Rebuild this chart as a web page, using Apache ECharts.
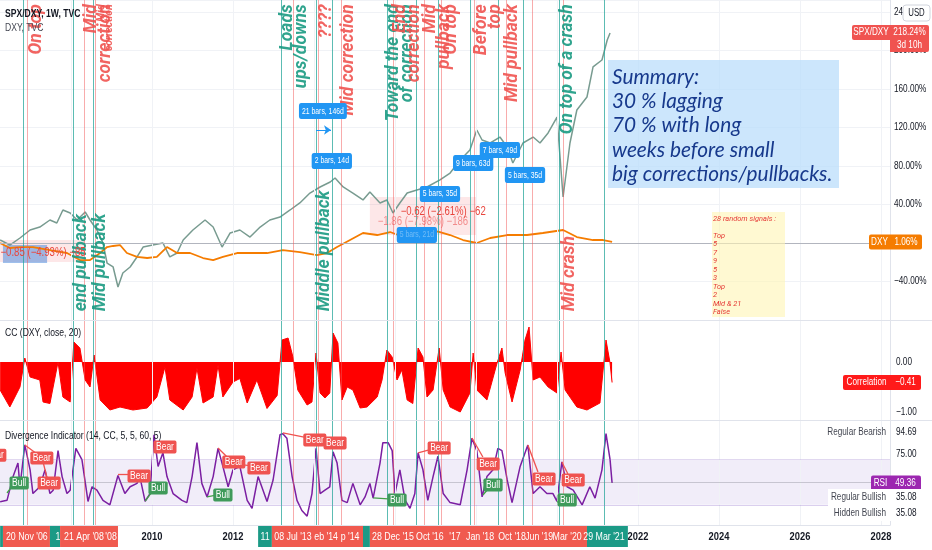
<!DOCTYPE html>
<html><head><meta charset="utf-8">
<script src="https://cdn.jsdelivr.net/npm/echarts@6/dist/echarts.min.js"></script>
<style>html,body{margin:0;padding:0;background:#fff}#c{width:932px;height:550px}</style>
</head><body><div id="c"></div>
<script>
// ---------- DATA (x = decimal year) ----------
const tealLines = [2006.815, 2008.049, 2008.543, 2013.185, 2014.049, 2014.444, 2015.802, 2016.519, 2017.062, 2017.852, 2018.543, 2019.160, 2020.049, 2021.160];
const redLines  = [2006.914, 2008.321, 2008.593, 2013.481, 2014.099, 2014.667, 2015.951, 2016.716, 2017.136, 2017.951, 2018.741, 2019.383, 2020.148];
const yearTicks = [2008, 2010, 2012, 2014, 2016, 2018, 2020, 2022, 2024, 2026, 2028];
const pctTicks = [-40, 0, 40, 80, 120, 160, 200, 240];

const spxData = [[2006.25,3.1],[2006.49,-2.1],[2006.74,5.2],[2006.99,13.5],[2007.23,16.6],[2007.48,23.9],[2007.65,20.8],[2007.80,34.3],[2007.98,31.2],[2008.15,23.9],[2008.35,32.2],[2008.47,23.9],[2008.64,13.5],[2008.79,0],[2008.89,-20.8],[2009.04,-24.9],[2009.16,-45.7],[2009.28,-31.2],[2009.46,-24.9],[2009.63,-14.5],[2009.78,-4.2],[2010.02,-2.1],[2010.27,0],[2010.44,-14.5],[2010.62,-10.4],[2010.77,3.1],[2011.01,13.5],[2011.31,23.9],[2011.51,16.6],[2011.73,-4.2],[2011.93,10.4],[2012.17,13.5],[2012.42,6.2],[2012.67,16.6],[2012.91,23.9],[2013.16,27.0],[2013.41,34.3],[2013.65,41.6],[2013.90,51.9],[2014.15,58.2],[2014.40,63.4],[2014.52,67.5],[2014.72,58.2],[2014.96,51.9],[2015.21,44.7],[2015.38,53.0],[2015.63,41.6],[2015.80,44.7],[2015.95,31.2],[2016.12,41.6],[2016.30,51.9],[2016.54,55.1],[2016.79,58.2],[2017.11,65.5],[2017.36,72.7],[2017.61,86.2],[2017.85,96.6],[2018.02,117.4],[2018.15,107.0],[2018.35,103.9],[2018.59,110.1],[2018.77,99.7],[2018.91,83.1],[2019.16,103.9],[2019.41,110.1],[2019.58,103.9],[2019.78,114.3],[2020.00,130.9],[2020.15,47.8],[2020.32,103.9],[2020.49,138.2],[2020.74,151.7],[2020.89,182.9],[2021.11,190.1],[2021.24,210.9],[2021.31,218.24]];

const dxyData = [[2006.25,0],[2006.49,-5.2],[2006.74,-4.2],[2007.06,-4.2],[2007.48,-7.3],[2007.90,-10.4],[2008.22,-17.7],[2008.47,-17.7],[2008.72,-10.4],[2008.89,-4.2],[2009.04,-3.1],[2009.21,-2.1],[2009.38,-10.4],[2009.63,-14.5],[2009.88,-15.6],[2010.12,-14.5],[2010.37,-4.2],[2010.62,-10.4],[2010.94,-10.4],[2011.26,-15.6],[2011.51,-17.7],[2011.75,-14.5],[2012.10,-10.4],[2012.42,-10.4],[2012.84,-10.4],[2013.23,-7.3],[2013.65,-9.4],[2014.07,-12.5],[2014.32,-10.4],[2014.57,-4.2],[2014.89,3.1],[2015.21,10.4],[2015.56,8.3],[2015.88,11.4],[2016.20,6.2],[2016.54,6.2],[2016.86,13.5],[2017.11,11.4],[2017.36,8.3],[2017.68,3.1],[2018.02,0],[2018.35,5.2],[2018.77,8.3],[2019.26,8.3],[2019.65,10.4],[2020.15,13.5],[2020.49,6.2],[2020.89,3.1],[2021.14,3.1],[2021.36,1.06]];

const ccData = [[2006.25,-0.56],[2006.49,-0.9],[2006.74,-0.5],[2006.86,0.08],[2006.99,-0.3],[2007.23,-0.36],[2007.31,-0.8],[2007.48,-0.83],[2007.68,0],[2007.80,-0.7],[2007.98,-0.8],[2008.07,0.4],[2008.22,0.28],[2008.35,-0.36],[2008.47,-0.5],[2008.57,0.14],[2008.72,-0.76],[2008.96,-0.96],[2009.21,-0.9],[2009.53,-0.96],[2009.88,-0.92],[2010.12,-0.7],[2010.32,-0.1],[2010.44,-0.76],[2010.77,-0.96],[2010.99,-0.7],[2011.11,-0.12],[2011.26,-0.82],[2011.51,-0.7],[2011.63,-0.06],[2011.75,-0.7],[2012.00,-0.4],[2012.17,-0.33],[2012.35,-0.82],[2012.59,-0.36],[2012.84,-0.93],[2013.09,-0.67],[2013.21,0.44],[2013.36,0.48],[2013.48,0.1],[2013.60,-0.56],[2013.83,-0.86],[2013.95,-0.8],[2014.05,0.18],[2014.15,-0.62],[2014.27,-0.72],[2014.39,-0.62],[2014.47,0.58],[2014.59,0.38],[2014.69,-0.76],[2014.82,-0.5],[2014.96,-0.56],[2015.14,-0.92],[2015.31,-0.9],[2015.56,-0.7],[2015.68,-0.36],[2015.80,0.24],[2015.93,0.1],[2016.05,-0.36],[2016.17,-0.16],[2016.30,-0.76],[2016.44,-0.83],[2016.57,0.28],[2016.69,0.1],[2016.79,-0.7],[2016.94,-0.56],[2017.09,0.28],[2017.19,-0.56],[2017.36,-0.9],[2017.61,-1.0],[2017.85,-0.62],[2017.93,0.18],[2018.02,-0.56],[2018.27,-0.76],[2018.52,-0.02],[2018.64,0.28],[2018.72,-0.22],[2018.89,-0.8],[2019.09,-0.16],[2019.21,0.44],[2019.31,0.7],[2019.41,-0.36],[2019.58,-0.3],[2019.78,-0.5],[2020.00,-0.62],[2020.10,0.2],[2020.20,-0.56],[2020.49,-0.9],[2020.74,-0.96],[2021.06,-0.82],[2021.21,0.44],[2021.31,-0.02],[2021.36,-0.41]];

const rsiData = [[2006.25,32.8],[2006.42,34],[2006.57,55],[2006.69,67],[2006.74,46],[2006.86,83],[2006.99,61],[2007.06,40],[2007.23,46],[2007.36,61],[2007.48,40],[2007.56,43],[2007.68,78],[2007.78,55],[2007.90,40],[2007.98,43],[2008.12,80],[2008.27,70],[2008.42,33],[2008.52,46],[2008.64,43],[2008.79,34],[2008.96,30],[2009.16,56],[2009.33,40],[2009.46,46],[2009.63,49],[2009.70,55],[2009.83,33],[2009.95,40],[2010.05,92],[2010.15,64],[2010.27,76],[2010.37,55],[2010.52,40],[2010.74,34],[2010.86,32],[2010.99,55],[2011.11,85],[2011.23,49],[2011.36,37],[2011.51,55],[2011.63,80],[2011.75,64],[2011.88,46],[2012.00,61],[2012.17,64],[2012.35,34],[2012.47,27],[2012.62,55],[2012.84,33],[2012.99,52],[2013.16,92],[2013.23,93],[2013.33,89],[2013.46,55],[2013.58,34],[2013.70,25],[2013.83,20],[2013.95,40],[2014.05,80],[2014.15,40],[2014.27,43],[2014.39,46],[2014.47,77],[2014.57,67],[2014.69,34],[2014.82,32],[2014.96,49],[2015.14,30],[2015.26,37],[2015.38,49],[2015.46,36],[2015.63,67],[2015.70,85],[2015.83,85],[2015.93,78],[2016.00,40],[2016.12,61],[2016.25,34],[2016.37,27],[2016.49,40],[2016.57,76],[2016.69,61],[2016.81,34],[2016.94,55],[2017.06,73],[2017.19,40],[2017.36,32],[2017.61,30],[2017.78,61],[2017.90,89],[2018.02,78],[2018.15,37],[2018.27,55],[2018.42,61],[2018.54,80],[2018.64,78],[2018.77,52],[2018.89,32],[2019.09,64],[2019.28,83],[2019.41,40],[2019.58,46],[2019.75,40],[2019.90,40],[2020.00,33],[2020.12,68],[2020.25,46],[2020.40,43],[2020.62,30],[2020.81,46],[2020.94,36],[2021.11,61],[2021.21,93],[2021.31,70],[2021.36,49.36]];

const topNotes = [[2007.16,'On top','r'],[2008.67,'Mid\ncorrection','r'],[2013.52,'Loads\nups/downs','t'],[2014.32,'????','r'],[2014.86,'Mid correction','r'],[2016.14,'Toward the end\nof correction','t'],[2016.30,'End\ncorrection','r'],[2017.05,'Mid\npullback','r'],[2017.41,'On top','r'],[2018.30,'Before\ntop','r'],[2018.91,'Mid pullback','r'],[2020.27,'On top of a crash','t']];
const smallNotes = [[2008.86,'Mid\ncorrection','r']];
const bottomNotes = [[2008.27,'end pullback','t'],[2008.74,'Mid pullback','t'],[2014.25,'Middle pullback','t'],[2020.32,'Mid crash','r']];
const barCallouts = [[2014.22,137.1,'21 bars, 146d'],[2014.44,85.2,'2 bars, 14d'],[2016.54,8.3,'5 bars, 21d'],[2017.11,50.9,'5 bars, 35d'],[2017.93,83.1,'9 bars, 63d'],[2018.59,96.6,'7 bars, 49d'],[2019.21,70.6,'5 bars, 35d']];
const measureTexts = [[2007.31,-10.4,'−0.85 (−4.93%) −85'],[2016.69,21.8,'−1.86 (−7.98%) −186'],[2017.19,32.2,'−0.62 (−2.61%) −62']];
const measureBoxes = [[2006.0,3.1,2008.35,-19.7],[2015.38,47.8,2018.02,8.3]];
const measureTag = [2006.32,-2.1,2007.41,-20.8];
const arrowSeg = [[2014.05,117.4],[2014.42,117.4]];
const bearLabels = [[2006.12,74],[2007.28,71.5],[2007.46,49.3],[2009.68,55.5],[2010.32,81.2],[2012.02,67.9],[2012.64,62.6],[2014.02,87.4],[2014.52,84.7],[2017.09,80.3],[2018.30,66.2],[2019.68,52.9],[2020.40,52.0]];
const bullLabels = [[2006.72,49.3],[2010.15,44.9],[2011.75,38.7],[2016.05,34.3],[2018.42,47.6],[2020.25,34.3]];
const bearLines = [[[2006.86,83.0],[2007.23,73.2]],[[2007.31,67.9],[2007.41,53.8]],[[2009.16,57.3],[2009.51,57.3]],[[2011.63,80.3],[2011.88,71.5]],[[2012.25,65.3],[2012.47,64.4]],[[2013.23,93.6],[2013.85,89.2]],[[2016.57,75.9],[2016.91,79.4]],[[2017.90,89.2],[2018.17,72.3]],[[2019.28,83.0],[2019.53,59.1]],[[2020.12,67.9],[2020.27,57.3]]];
const bullLines = [[[2006.42,40.5],[2006.57,47.6]],[[2009.83,33.4],[2010.00,41.4]],[[2011.36,37.0],[2011.58,38.7]],[[2015.46,36.1],[2015.83,35.2]],[[2018.17,38.7],[2018.32,44.9]],[[2020.00,32.5],[2020.07,33.4]]];
const dateBoxes = [[2006.25,2006.32,'t'],[2006.32,2007.48,'r'],[2007.48,2007.73,'t'],[2007.73,2009.16,'r'],[2012.62,2012.96,'t'],[2012.96,2015.21,'r'],[2015.21,2015.38,'t'],[2015.38,2020.74,'r'],[2020.74,2021.75,'t']];
const dateTexts = [[2006.91,"20 Nov '06"],[2007.68,"1"],[2008.32,"21 Apr '08"],[2008.99,"'08"],[2012.79,"11"],[2013.48,"08 Jul '13"],[2014.30,"eb '14"],[2014.89,"p '14"],[2015.95,"28 Dec '15"],[2016.86,"Oct '16"],[2017.48,"'17"],[2018.10,"Jan '18"],[2018.89,"Oct '18"],[2019.56,"Jun '19"],[2020.25,"Mar '20"],[2021.16,"29 Mar '21"]];
const lastSpx = 218.24, lastDxy = 1.06, lastCc = -0.41, lastRsi = 49.36, regBear = 94.69, regBull = 35.08, hidBull = 35.08;
const summaryLines = ['Summary:','30 % lagging','70 % with long','weeks before small','big corrections/pullbacks.'];
const signalLines = ['28 random signals :','','Top','5','7','9','5','3','Top','2','Mid & 21','False'];

// ---------- STYLE ----------
const UI = "'Liberation Sans',Roboto,sans-serif";
const NX = 0.78;   // horizontal squeeze to imitate the narrow UI face
const NOTE = "Roboto,'Open Sans',sans-serif";
const TEAL = '#1a9a82', RED = '#ef5350';
const C = {r: RED, t: TEAL};
const X_MIN = 2006.247, X_MAX = 2028.222;
const grids = [
  {left:0, right:42, top:0, height:320},
  {left:0, right:42, top:321, height:99},
  {left:0, right:42, top:421, height:104}
];
const vLines = () => ({
  silent:true, symbol:'none', label:{show:false}, animation:false,
  data: tealLines.map(v => ({xAxis:v, lineStyle:{color:'rgba(38,166,154,0.75)', width:1, type:'solid'}}))
    .concat(redLines.map(v => ({xAxis:v, lineStyle:{color:'rgba(242,90,90,0.5)', width:1, type:'solid'}})))
});
const gridV = (i) => ({type:'line', xAxisIndex:i, yAxisIndex:i, data:[], symbol:'none', z:1,
  markLine:{silent:true, symbol:'none', label:{show:false}, data: yearTicks.map(v => ({xAxis:v, lineStyle:{color:'#f0f2f6', width:1, type:'solid'}}))}});
const xAxisBase = i => ({
  type:'value', gridIndex:i, min:X_MIN, max:X_MAX,
  axisLine:{show:i===2, lineStyle:{color:'#e0e3eb'}}, axisTick:{show:false},
  splitLine:{show:false}, axisLabel:{show:false}
});

function noteItem(n, val, align, size, lh){
  return {value:[n[0], val], label:{show:true, position:'inside', formatter:n[1], rotate:90, align:align, verticalAlign:'middle',
    color:C[n[2]], fontSize:size, lineHeight:lh, fontWeight:'bold', fontStyle:'italic', fontFamily:NOTE, opacity:0.9}};
}

const option = {
  animation:false,
  grid: grids,
  xAxis: [xAxisBase(0), xAxisBase(1), xAxisBase(2)],
  yAxis: [
    {type:'value', gridIndex:0, position:'right', min:-80, max:252.47, interval:40,
      axisLine:{show:true, lineStyle:{color:'#e0e3eb'}}, axisTick:{show:false},
      splitLine:{lineStyle:{color:'#f0f2f6'}}, axisLabel:{show:false}},
    {type:'value', gridIndex:1, position:'right', min:-1.16, max:0.82,
      axisLine:{show:true, lineStyle:{color:'#e0e3eb'}}, axisTick:{show:false}, splitLine:{show:false}, axisLabel:{show:false}},
    {type:'value', gridIndex:2, position:'right', min:12.17, max:104.2,
      axisLine:{show:true, lineStyle:{color:'#e0e3eb'}}, axisTick:{show:false}, splitLine:{show:false}, axisLabel:{show:false}}
  ],
  series: [
    gridV(0), gridV(1), gridV(2),
    {type:'line', name:'DXY', xAxisIndex:0, yAxisIndex:0, data:dxyData, symbol:'none', z:3,
      lineStyle:{color:'#f57c00', width:1.8},
      markArea:{silent:true, data: measureBoxes.map(b => [{coord:[b[0],b[1]], itemStyle:{color:'rgba(242,54,69,0.12)'}},{coord:[b[2],b[3]]}])
        .concat([[{coord:[measureTag[0],measureTag[1]], itemStyle:{color:'rgba(80,140,220,0.55)'}},{coord:[measureTag[2],measureTag[3]]}]])},
      markLine:{silent:true, symbol:'none', label:{show:false}, data:[{yAxis:0, lineStyle:{color:'#b2b5be', width:1, type:'solid'}}]}},
    {type:'line', name:'SPX/DXY', xAxisIndex:0, yAxisIndex:0, data:spxData, symbol:'none', z:2,
      lineStyle:{color:'#789b90', width:1.5}, markLine: vLines()},
    {type:'line', name:'arrow', xAxisIndex:0, yAxisIndex:0, data:[], symbol:'none',
      markLine:{silent:true, symbol:['none','arrow'], symbolSize:7, label:{show:false},
        data:[[{coord:arrowSeg[0], lineStyle:{color:'#2196f3', width:1, type:'solid'}},{coord:arrowSeg[1]}]]}},
    {type:'scatter', name:'notes', xAxisIndex:0, yAxisIndex:0, symbolSize:1, z:6, itemStyle:{color:'rgba(0,0,0,0)'},
      data: topNotes.map(n => noteItem(n, 248, 'right', 17.5, 14))
        .concat(smallNotes.map(n => noteItem(n, 248, 'right', 10.5, 8)))
        .concat(bottomNotes.map(n => noteItem(n, -71, 'left', 17.5, 14)))},
    {type:'line', name:'CC', xAxisIndex:1, yAxisIndex:1, data:ccData, symbol:'none',
      lineStyle:{color:'#ff0000', width:1}, areaStyle:{color:'#ff0000', opacity:1, origin:0},
      markLine: vLines()},
    {type:'line', name:'RSI', xAxisIndex:2, yAxisIndex:2, data:rsiData, symbol:'none', z:4,
      lineStyle:{color:'#7b1fa2', width:1.5},
      markArea:{silent:true, itemStyle:{color:'rgba(149,117,205,0.13)'}, data:[[{yAxis:70},{yAxis:30}]]},
      markLine: vLines()},
    {type:'line', name:'rsilines', xAxisIndex:2, yAxisIndex:2, data:[], symbol:'none',
      markLine:{silent:true, symbol:'none', label:{show:false}, data:[
        {yAxis:70, lineStyle:{color:'rgba(149,117,205,0.25)', type:'solid'}},
        {yAxis:50, lineStyle:{color:'rgba(120,123,134,0.35)', type:'solid'}},
        {yAxis:30, lineStyle:{color:'rgba(149,117,205,0.35)', type:'solid'}}]}},
    {type:'line', name:'divlines', xAxisIndex:2, yAxisIndex:2, data:[], symbol:'none', z:5,
      markLine:{silent:true, symbol:'none', label:{show:false}, data:
        bearLines.map(l => [{coord:l[0], lineStyle:{color:'#ef5350', width:1.3, type:'solid'}},{coord:l[1]}])
        .concat(bullLines.map(l => [{coord:l[0], lineStyle:{color:'#43a047', width:1.3, type:'solid'}},{coord:l[1]}]))}}
  ]
};

const chart = echarts.init(document.getElementById('c'));
chart.setOption(option);

// ---------- overlay annotations positioned through the chart scales ----------
const py = (i, v) => chart.convertToPixel({yAxisIndex:i}, v);
const px = v => chart.convertToPixel({xAxisIndex:2}, v);
const pt = (g, p) => chart.convertToPixel({gridIndex:g}, p);
const G = [];
const AX = 890;
function rect(x,y,w,h,fill,r,extraStyle,z){ G.push({type:'rect', z:z||100, shape:{x:x,y:y,width:w,height:h,r:r||0}, style:Object.assign({fill:fill}, extraStyle||{})}); }
function txt(x,y,t,st,sx,z){ G.push({type:'text', z:z||102, x:x, y:y, scaleX:(sx==null?NX:sx), style:Object.assign({text:t, fill:'#131722', fontSize:10, fontFamily:UI, align:'left', verticalAlign:'middle'}, st||{})}); }
function line(x1,y1,x2,y2,c){ G.push({type:'line', z:99, shape:{x1:x1,y1:y1,x2:x2,y2:y2}, style:{stroke:c, lineWidth:1}}); }

// panel separators
line(0, grids[0].top+grids[0].height+0.5, 932, grids[0].top+grids[0].height+0.5, '#e0e3eb');
line(0, grids[1].top+grids[1].height+0.5, 932, grids[1].top+grids[1].height+0.5, '#e0e3eb');

// titles
txt(5, 14, 'SPX/DXY, 1W, TVC', {fontSize:11, fill:'#131722', fontWeight:'bold'});
txt(5, 28, 'DXY, TVC', {fontSize:11, fill:'#434651'});
txt(5, grids[1].top+12, 'CC (DXY, close, 20)', {fontSize:11, fill:'#131722'});
txt(5, grids[2].top+15, 'Divergence Indicator (14, CC, 5, 5, 60, 5)', {fontSize:11, fill:'#131722'});

// blue bar-count callouts, measurement texts (data-anchored)
barCallouts.forEach((c,i) => { const p = pt(0, [c[0], c[1]]);
  txt(p[0], p[1], c[2], {fill: i===2 ? 'rgba(255,255,255,0.35)' : '#fff', align:'center', fontSize:9, backgroundColor:'#2196f3', padding:[4,4,3,4], borderRadius:3}, 0.76, 95); });
measureTexts.forEach((m,i) => { const p = pt(0, [m[0], m[1]]);
  txt(p[0], p[1], m[2], {fill: i===1 ? 'rgba(235,80,80,0.6)' : '#e8463e', align:'center', fontSize:12}, 0.8, 96); });
// Bear / Bull tags
bearLabels.forEach(b => { const p = pt(2, b);
  txt(p[0], p[1], 'Bear', {fill:'#fff', align:'center', fontSize:10, backgroundColor:'#ef5350', padding:[2,3,1,3], borderRadius:2}, 0.85, 97); });
bullLabels.forEach(b => { const p = pt(2, b);
  txt(p[0], p[1], 'Bull', {fill:'#fff', align:'center', fontSize:10, backgroundColor:'#3f9a5a', padding:[2,3,1,3], borderRadius:2}, 0.85, 97); });

// summary box
rect(608, 60, 231, 128, 'rgba(187,222,251,0.75)', 0, null, 90);
summaryLines.forEach((s,i) => txt(612, 77 + i*24.2, s, {fontSize:21.5, fontStyle:'italic', fontFamily:"Lato,'Open Sans',sans-serif", fill:'#17398c'}, 0.97, 91));
// signals box
rect(712, 212, 73, 105, 'rgba(255,245,180,0.6)', 0, null, 90);
signalLines.forEach((s,i) => txt(713, 218.5 + i*8.5, s, {fontSize:8, fontStyle:'italic', fill:'#e53935', fontFamily:NOTE}, 0.93, 91));

// right-axis tick labels
pctTicks.forEach(v => txt(AX+4, py(0,v), (v<0?'−':'') + Math.abs(v).toFixed(2) + '%', {fontSize:10.5}, NX, 80));
txt(AX+6, py(1,0), '0.00', {fontSize:10.5});
txt(AX+6, py(1,-1), '−1.00', {fontSize:10.5});
txt(AX+6, py(2,75), '75.00', {fontSize:10.5});

// year labels on the time axis
const yB = grids[2].top + grids[2].height + 1;
yearTicks.forEach(v => txt(px(v), yB+11, String(v), {align:'center', fontSize:11, fontWeight:'bold'}, 0.85, 80));

// price tags
function tag(yc, name, nameX, val, color, valW){
  rect(nameX, yc-7.5, AX-nameX, 15, color, [2,0,0,2]);
  txt((nameX+AX)/2, yc, name, {fill:'#fff', align:'center', fontSize:10.5});
  rect(AX, yc-7.5, valW, 15, color, [0,2,2,0]);
  txt(AX+valW/2, yc, val, {fill:'#fff', align:'center', fontSize:10.5});
}
const ySpx = py(0, lastSpx);
rect(852, ySpx-8, AX-852, 15, '#f05350', [2,0,0,2]);
txt((852+AX)/2, ySpx-0.5, 'SPX/DXY', {fill:'#fff', align:'center', fontSize:10.5});
rect(AX, ySpx-8, 39, 27, '#f05350', [0,2,2,0]);
txt(AX+19.5, ySpx-0.5, lastSpx.toFixed(2)+'%', {fill:'#fff', align:'center', fontSize:10.5});
txt(AX+19.5, ySpx+12, '3d 10h', {fill:'#fff', align:'center', fontSize:10.5});
tag(py(0,lastDxy), 'DXY', 869, lastDxy.toFixed(2)+'%', '#f57c00', 32);
tag(py(1,lastCc), 'Correlation', 843, '−'+Math.abs(lastCc).toFixed(2), '#ff1a1a', 31);
tag(py(2,lastRsi), 'RSI', 871, lastRsi.toFixed(2), '#9c27b0', 31);
// USD box
rect(903, 5, 27, 16, '#fff', 3, {stroke:'#d1d4dc'});
txt(916.5, 13, 'USD', {align:'center', fontSize:10});

// divergence value labels
const yBear = py(2, regBear), yBull = py(2, regBull) - 2;
txt(886, yBear, 'Regular Bearish', {align:'right', fill:'#434651', fontSize:10.5});
txt(896, yBear, regBear.toFixed(2), {fontSize:10.5});
rect(828, yBull-8, 104, 32, '#fff');
txt(886, yBull, 'Regular Bullish', {align:'right', fill:'#434651', fontSize:10.5});
txt(896, yBull, regBull.toFixed(2), {fontSize:10.5});
txt(886, yBull+16, 'Hidden Bullish', {align:'right', fill:'#434651', fontSize:10.5});
txt(896, yBull+16, hidBull.toFixed(2), {fontSize:10.5});

// date boxes on the time axis
dateBoxes.forEach(b => { const x1 = px(b[0]), x2 = px(b[1]); rect(x1, yB, x2-x1, 21, b[2]==='t' ? '#1b9a86' : '#f05a4f'); });
dateTexts.forEach(d => txt(px(d[0]), yB+10.5, d[1], {fill:'#fff', align:'center', fontSize:11}, 0.8));

chart.setOption({graphic: G});
</script></body></html>
